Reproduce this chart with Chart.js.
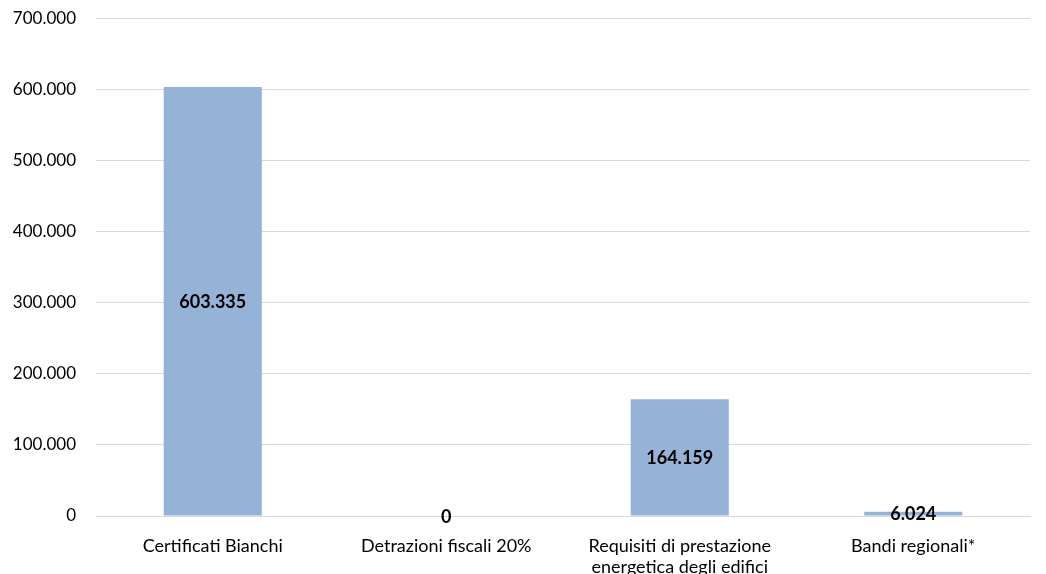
<!DOCTYPE html>
<html>
<head>
<meta charset="utf-8">
<script src="https://cdn.jsdelivr.net/npm/chart.js@4"></script>
<style>
  html, body { margin: 0; padding: 0; background: #fff; }
  #wrap { width: 1046px; height: 574px; }
</style>
</head>
<body>
<div id="wrap"><canvas id="chart"></canvas></div>
<script>
  const categories = [
    "Certificati Bianchi",
    "Detrazioni fiscali 20%",
    ["Requisiti di prestazione", "energetica degli edifici"],
    "Bandi regionali*",
  ];
  const values = [603335, 0, 164159, 6024];
  const yTicks = [0, 100000, 200000, 300000, 400000, 500000, 600000, 700000];

  const FONT = "Lato, 'Open Sans', sans-serif";
  const fmt = (v) => v.toString().replace(/\B(?=(\d{3})+(?!\d))/g, ".");

  // etichette dei valori al centro delle barre
  const valueLabels = {
    id: "valueLabels",
    afterDatasetsDraw(chart) {
      const ctx = chart.ctx;
      const meta = chart.getDatasetMeta(0);
      ctx.save();
      ctx.font = "bold 18px " + FONT;
      ctx.fillStyle = "#000";
      ctx.textAlign = "center";
      ctx.textBaseline = "middle";
      meta.data.forEach((bar, i) => {
        const y = (bar.y + bar.base) / 2;
        ctx.fillText(fmt(values[i]), bar.x, y + 1);
      });
      ctx.restore();
    },
  };

  new Chart(document.getElementById("chart"), {
    type: "bar",
    data: {
      labels: categories,
      datasets: [{
        data: values,
        backgroundColor: "#95B3D7",
        borderWidth: 0,
        barPercentage: 0.42,
        categoryPercentage: 1,
      }],
    },
    options: {
      responsive: true,
      maintainAspectRatio: false,
      animation: false,
      layout: {padding: {top: 0, right: 16, left: 12, bottom: 0}},
      plugins: {legend: {display: false}, tooltip: {enabled: false}},
      scales: {
        x: {
          grid: {display: false, drawTicks: false},
          border: {color: "#d9d9d9"},
          afterFit: (axis) => {
            axis.height = 58;
          },
          ticks: {
            color: "#000",
            font: {family: FONT, size: 18},
            maxRotation: 0,
            padding: 19,
          },
        },
        y: {
          min: 0,
          max: 700000,
          afterBuildTicks: (axis) => {
            axis.ticks = yTicks.map((v) => ({value: v}));
          },
          afterFit: (axis) => {
            axis.width = 84;
          },
          grid: {color: "#d9d9d9", drawTicks: true, tickLength: 12, tickColor: "rgba(0,0,0,0)"},
          border: {display: false},
          ticks: {
            color: "#000",
            padding: 8,
            font: {family: FONT, size: 17},
            callback: (v) => fmt(v),
          },
        },
      },
    },
    plugins: [valueLabels],
  });
</script>
</body>
</html>
